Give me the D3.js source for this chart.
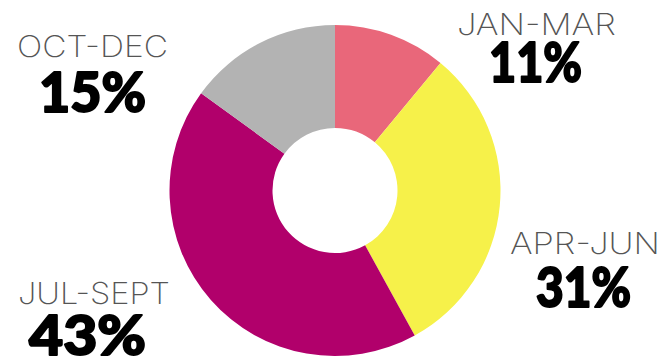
<!DOCTYPE html>
<html>
<head>
<meta charset="utf-8">
<script src="https://cdn.jsdelivr.net/npm/d3@7"></script>
<style>
html,body{margin:0;padding:0;background:#fff;}
svg{display:block;}
</style>
</head>
<body>
<svg id="chart" width="663" height="364"></svg>
<script>
const categories = ["JAN-MAR", "APR-JUN", "JUL-SEPT", "OCT-DEC"];
const values = [11, 31, 43, 15];
const percentLabels = ["11%", "31%", "43%", "15%"];
const colors = ["#E9677A", "#F6F14A", "#B1006B", "#B3B3B3"];

const svg = d3.select("#chart");
const cx = 335, cy = 190.5, outerR = 165.5, innerR = 62.5;

const pie = d3.pie().sort(null).value(d => d)(values);
const arc = d3.arc().innerRadius(innerR).outerRadius(outerR);

svg.append("g").attr("transform", `translate(${cx},${cy})`)
  .selectAll("path").data(pie).join("path")
  .attr("d", arc)
  .attr("fill", (d, i) => colors[i]);

// label layout: [left x, baseline y, width] for category and percent lines
const labelLayout = [
  {cat: [457, 35, 159], pct: [488, 82, 95]},
  {cat: [510, 254, 150], pct: [535, 307, 97]},
  {cat: [18, 304, 152], pct: [28, 355, 119]},
  {cat: [17, 56.5, 151], pct: [38, 112, 109]}
];

const lg = svg.append("g");
categories.forEach((c, i) => {
  const L = labelLayout[i];
  lg.append("text")
    .attr("x", L.cat[0]).attr("y", L.cat[1])
    .attr("textLength", L.cat[2]).attr("lengthAdjust", "spacingAndGlyphs")
    .attr("font-family", "Inter, Lato, sans-serif")
    .attr("font-weight", 200)
    .attr("font-size", 30)
    .attr("fill", "#555")
    .text(c);
  lg.append("text")
    .attr("x", L.pct[0] + 1).attr("y", L.pct[1])
    .attr("textLength", L.pct[2] - 2).attr("lengthAdjust", "spacingAndGlyphs")
    .attr("font-family", "Lato, 'Open Sans', sans-serif")
    .attr("font-weight", 900)
    .attr("font-size", 55)
    .attr("fill", "#000")
    .attr("stroke", "#000")
    .attr("stroke-width", 2)
    .attr("stroke-linejoin", "round")
    .text(percentLabels[i]);
});
</script>
</body>
</html>
